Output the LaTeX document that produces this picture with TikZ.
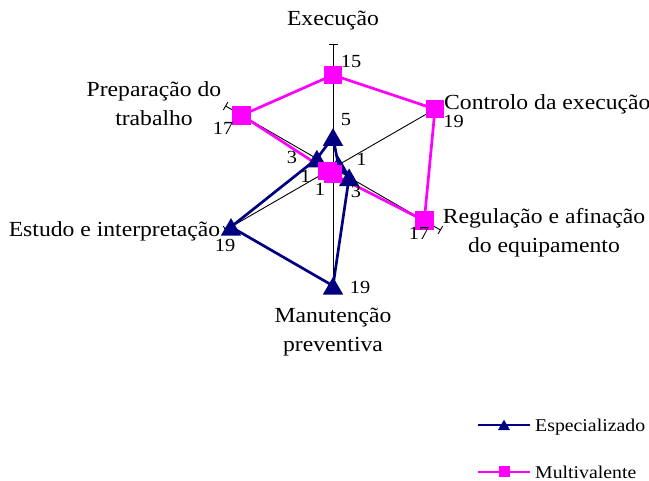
\documentclass[tikz,border=0pt]{standalone}
\usepackage{fontspec}
\setmainfont{Liberation Serif}[FakeStretch=1.1]
\usetikzlibrary{shapes.geometric,calc}
\definecolor{navy}{RGB}{0,0,128}
\definecolor{mag}{RGB}{255,0,255}
\begin{document}
\begin{tikzpicture}[x=1pt,y=-1pt,
  axisline/.style={draw=black,line width=0.9pt},
  tickline/.style={draw=black,line width=0.9pt},
  espline/.style={draw=navy,line width=2.7pt,line join=round},
  mulline/.style={draw=mag,line width=2.7pt,line join=round},
  tri/.style={regular polygon,regular polygon sides=3,fill=navy,inner sep=0pt,minimum size=23.5pt,yshift=-2.9pt},
  sq/.style={rectangle,fill=mag,inner sep=0pt,minimum size=18.5pt},
  cat/.style={font=\fontsize{21.5}{29.5}\selectfont,inner sep=0pt,align=center},
  val/.style={font=\fontsize{18.5}{20}\selectfont,inner sep=0pt},
  leg/.style={font=\fontsize{18}{20}\selectfont,inner sep=0pt},
]
\useasboundingbox (0,0) rectangle (649,481);
\coordinate (O) at (333,168);
% axis ends (value 20)
\coordinate (aE) at ($(O)+(-90:124)$);
\coordinate (aC) at ($(O)+(-30:124)$);
\coordinate (aR) at ($(O)+(30:124)$);
\coordinate (aM) at ($(O)+(90:124)$);
\coordinate (aS) at ($(O)+(150:124)$);
\coordinate (aP) at ($(O)+(-150:124)$);
\draw[axisline] (aE) -- (aM);
\draw[axisline] (aC) -- (aS);
\draw[axisline] (aP) -- (aR);
\foreach \n/\a in {aE/-90,aC/-30,aR/30,aM/90,aS/150,aP/-150}
  \draw[tickline] ($(\n)+(\a+90:4.5)$) -- ($(\n)+(\a-90:4.5)$);
% Especializado points
\coordinate (eE) at ($(O)+(-90:31)$);
\coordinate (eC) at ($(O)+(-30:6.2)$);
\coordinate (eR) at ($(O)+(30:18.6)$);
\coordinate (eM) at ($(O)+(90:117.8)$);
\coordinate (eS) at ($(O)+(150:117.8)$);
\coordinate (eP) at ($(O)+(-150:18.6)$);
% Multivalente points
\coordinate (mE) at ($(O)+(-90:93)$);
\coordinate (mC) at ($(O)+(-30:117.8)$);
\coordinate (mR) at ($(O)+(30:105.4)$);
\coordinate (mM) at ($(O)+(90:6.2)$);
\coordinate (mS) at ($(O)+(150:6.2)$);
\coordinate (mP) at ($(O)+(-150:105.4)$);
\draw[espline] (eE) -- (eC) -- (eR) -- (eM) -- (eS) -- (eP) -- cycle;
\draw[mulline] (mE) -- (mC) -- (mR) -- (mM) -- (mS) -- (mP) -- cycle;
\foreach \p in {eE,eC,eR,eM,eS,eP} \node[tri] (k\p) at (\p) {};
\foreach \p in {mE,mC,mR,mM,mS,mP} \node[sq] (k\p) at (\p) {};
% data labels
\node[val] (v15) at (351,61.7) {15};
\node[val] (v5) at (346,120) {5};
\node[val] (v3p) at (292,157) {3};
\node[val] (v1c) at (361.5,159) {1};
\node[val] (v1s) at (305.5,176.5) {1};
\node[val] (v1m) at (320,189) {1};
\node[val] (v3r) at (356,191) {3};
\node[val] (v19c) at (453.5,121.8) {19};
\node[val] (v17r) at (419,233.3) {17};
\node[val] (v17p) at (223,128.3) {17};
\node[val] (v19s) at (225,245.5) {19};
\node[val] (v19m) at (360,287.5) {19};
% category labels
\node[cat,anchor=base] (tE) at (333,26) {Execução};
\node[cat,anchor=north] (tP) at (154,81.3) {Preparação do\\trabalho};
\node[cat,anchor=base west] (tC) at (444,110) {Controlo da execução};
\node[cat,anchor=north] (tR) at (544,208) {Regulação e afinação\\do equipamento};
\node[cat,anchor=base] (tS) at (114.5,236.5) {Estudo e interpretação};
\node[cat,anchor=north] (tM) at (333,307.5) {Manutenção\\preventiva};
% legend
\coordinate (la1) at (478,425);
\coordinate (lb1) at (530,425);
\draw[espline,line width=2.3pt] (la1) -- (lb1);
\node[tri,minimum size=14pt,yshift=1.2pt] (lm1) at (504,425) {};
\node[leg,anchor=base west] (lt1) at (535,431.7) {Especializado};
\coordinate (la2) at (478,472);
\coordinate (lb2) at (530,472);
\draw[mulline,line width=2.3pt] (la2) -- (lb2);
\node[sq,minimum size=11pt] (lm2) at (504,472) {};
\node[leg,anchor=base west] (lt2) at (535,478.3) {Multivalente};
\end{tikzpicture}
\end{document}
